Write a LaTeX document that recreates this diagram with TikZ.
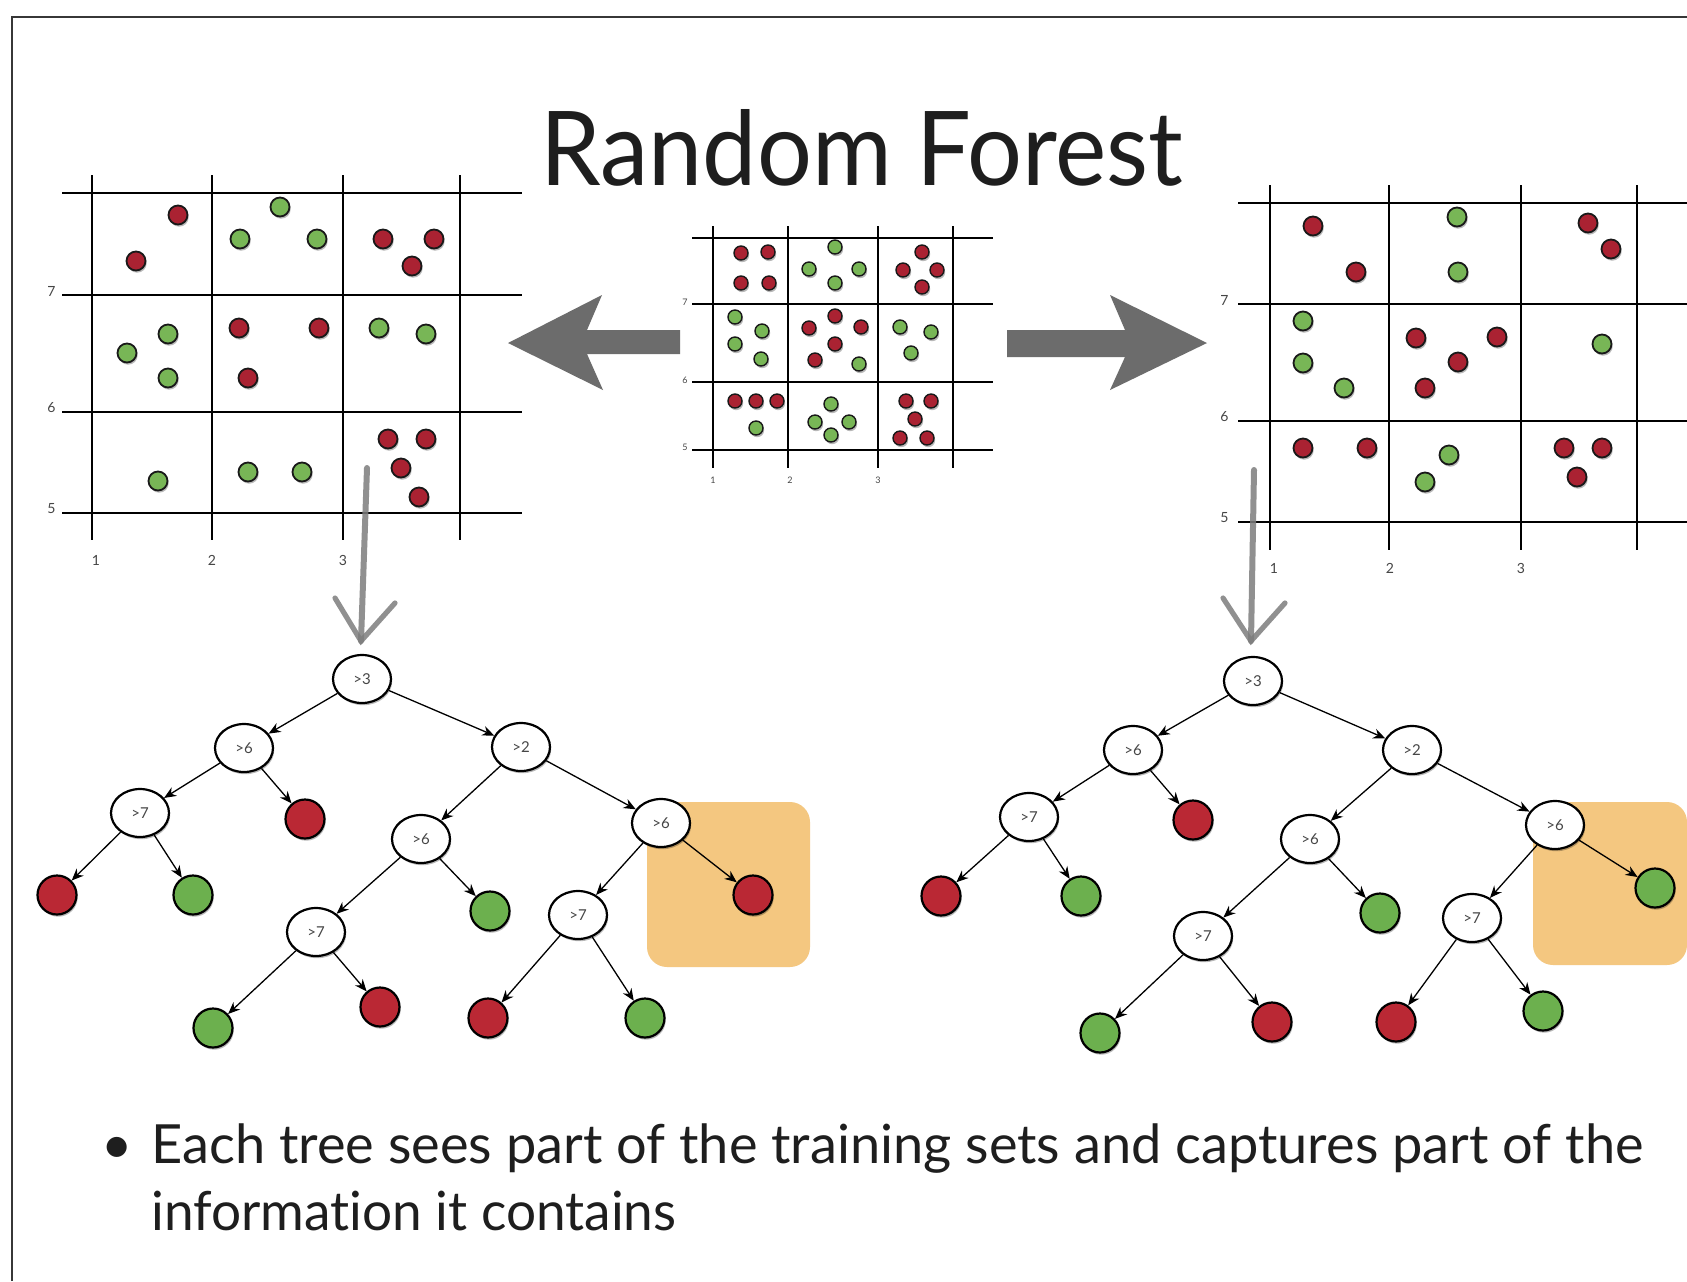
\documentclass[tikz,border=0pt]{standalone}
\usepackage{fontspec}
\setmainfont{Lato}[Ligatures=NoCommon]
\usepackage{graphicx}
\usetikzlibrary{shapes.geometric,arrows.meta,shadows}
\definecolor{dred}{RGB}{170,34,50}
\definecolor{dgreen}{RGB}{120,182,86}
\definecolor{lred}{RGB}{186,40,52}
\definecolor{lgreen}{RGB}{108,176,78}
\definecolor{hl}{RGB}{244,199,128}
\definecolor{bigarrow}{RGB}{108,108,108}
\definecolor{sketch}{RGB}{125,125,125}
\definecolor{framec}{RGB}{55,55,55}
\definecolor{lblc}{RGB}{70,70,70}
\definecolor{txtc}{RGB}{30,30,30}
\begin{document}
\begin{tikzpicture}[x=0.5pt,y=-0.5pt,
  shd/.style={drop shadow={shadow xshift=0.6pt,shadow yshift=-1.1pt,opacity=0.28,fill=black}},
  gridline/.style={line width=1.2pt,black},
  cgridline/.style={line width=1pt,black},
  axlbl/.style={font=\fontsize{7pt}{8pt}\selectfont,text=lblc,inner sep=0pt},
  caxlbl/.style={font=\fontsize{4.5pt}{5pt}\selectfont,text=lblc,inner sep=0pt},
  dotR/.style={circle,draw=black!90,line width=0.9pt,fill=dred,minimum size=9.5pt,inner sep=0pt,shd},
  dotG/.style={circle,draw=black!90,line width=0.9pt,fill=dgreen,minimum size=9.5pt,inner sep=0pt,shd},
  cdotR/.style={circle,draw=black!90,line width=0.7pt,fill=dred,minimum size=7pt,inner sep=0pt,shd},
  cdotG/.style={circle,draw=black!90,line width=0.7pt,fill=dgreen,minimum size=7pt,inner sep=0pt,shd},
  inode/.style={ellipse,draw=black,line width=1.1pt,fill=white,minimum width=29pt,minimum height=24pt,inner sep=0pt,
    font=\fontsize{7.5pt}{8pt}\selectfont,text=lblc,shd},
  leafR/.style={circle,draw=black,line width=1.1pt,fill=lred,minimum size=19.5pt,inner sep=0pt,shd},
  leafG/.style={circle,draw=black,line width=1.1pt,fill=lgreen,minimum size=19.5pt,inner sep=0pt,shd},
  tedge/.style={-{Stealth[length=6pt,width=5pt]},line width=0.65pt,black},
  sketchline/.style={line width=3pt,sketch,opacity=0.85,line cap=round},
  sketcharm/.style={line width=2.6pt,sketch,opacity=0.85,line cap=round}
]
\useasboundingbox (0,0) rectangle (1687,1281);
\fill[white] (0,0) rectangle (1687,1281);

% frame
\draw[framec,line width=1.2pt] (12,1281) -- (12,17) -- (1687,17);

% title
\node[anchor=base,inner sep=0pt,text=txtc] (title) at (862,185)
  {\resizebox{321.5pt}{\height}{\fontsize{51.6pt}{60pt}\selectfont Random Forest}};

% ---------- left grid ----------
\foreach \yy in {193,295,412,513} \draw[gridline] (62,\yy) -- (522,\yy);
\foreach \xx in {92,212,343,460} \draw[gridline] (\xx,175) -- (\xx,540);
\node[axlbl,anchor=east] (ly7) at (56,291) {7};
\node[axlbl,anchor=east] (ly6) at (56,408) {6};
\node[axlbl,anchor=east] (ly5) at (56,509) {5};
\node[axlbl] (lx1) at (96,560) {1};
\node[axlbl] (lx2) at (212,560) {2};
\node[axlbl] (lx3) at (343,560) {3};
\foreach \xx/\yy [count=\i] in {178/215,136/261,383/239,434/239,412/266,239/328,319/328,248/378,388/439,426/439,401/468,419/497}
  \node[dotR] (lr\i) at (\xx,\yy) {};
\foreach \xx/\yy [count=\i] in {280/207,240/239,317/239,168/334,127/353,168/378,379/328,426/334,158/481,248/472,302/472}
  \node[dotG] (lg\i) at (\xx,\yy) {};

% ---------- center grid ----------
\foreach \yy in {238,304,382,450} \draw[cgridline] (692,\yy) -- (993,\yy);
\foreach \xx in {713,788,878,953} \draw[cgridline] (\xx,226) -- (\xx,468);
\node[caxlbl,anchor=east] (cy7) at (688,302) {7};
\node[caxlbl,anchor=east] (cy6) at (688,380) {6};
\node[caxlbl,anchor=east] (cy5) at (688,447) {5};
\node[caxlbl] (cx1) at (713,480) {1};
\node[caxlbl] (cx2) at (790,480) {2};
\node[caxlbl] (cx3) at (878,480) {3};
\foreach \xx/\yy [count=\i] in {741/253,768/252,741/283,769/283,922/252,903/270,937/270,922/287,835/316,809/328,861/327,835/344,815/360,735/401,756/401,777/401,906/401,931/401,915/419,900/438,927/438}
  \node[cdotR] (cr\i) at (\xx,\yy) {};
\foreach \xx/\yy [count=\i] in {835/247,809/269,859/269,835/283,735/317,762/331,735/344,761/359,859/364,900/327,931/332,911/353,756/428,831/404,815/422,849/422,831/435}
  \node[cdotG] (cg\i) at (\xx,\yy) {};

% ---------- right grid ----------
\foreach \yy in {203,304,421,522} \draw[gridline] (1238,\yy) -- (1687,\yy);
\foreach \xx in {1270,1389,1521,1637} \draw[gridline] (\xx,185) -- (\xx,550);
\node[axlbl,anchor=east] (ry7) at (1229,300) {7};
\node[axlbl,anchor=east] (ry6) at (1229,417) {6};
\node[axlbl,anchor=east] (ry5) at (1229,518) {5};
\node[axlbl] (rx1) at (1274,568) {1};
\node[axlbl] (rx2) at (1390,568) {2};
\node[axlbl] (rx3) at (1521,568) {3};
\foreach \xx/\yy [count=\i] in {1313/226,1356/272,1588/223,1611/249,1416/338,1497/337,1458/362,1425/388,1303/448,1367/448,1564/448,1602/448,1577/477}
  \node[dotR] (rr\i) at (\xx,\yy) {};
\foreach \xx/\yy [count=\i] in {1457/217,1458/272,1303/321,1303/363,1344/388,1602/344,1449/455,1425/482}
  \node[dotG] (rg\i) at (\xx,\yy) {};

% ---------- big gray arrows ----------
\fill[bigarrow] (508,343) -- (602,295) -- (587,330) -- (680,330) -- (680,354) -- (587,354) -- (603,390) -- cycle;
\fill[bigarrow] (1207,343) -- (1110,295) -- (1125,330) -- (1007,330) -- (1007,357) -- (1125,357) -- (1110,390) -- cycle;

% ---------- sketchy down arrows ----------
\coordinate (ls) at (367,468);
\coordinate (lt) at (361,641);
\coordinate (la) at (335,598);
\coordinate (lb) at (395,603);
\draw[sketchline] (ls) -- (lt);
\draw[sketcharm] (la) -- (lt) -- (lb);
\coordinate (rs) at (1254,470);
\coordinate (rt) at (1251,641);
\coordinate (ra) at (1223,598);
\coordinate (rb) at (1285,603);
\draw[sketchline] (rs) -- (rt);
\draw[sketcharm] (ra) -- (rt) -- (rb);

% ---------- highlight boxes ----------
\fill[hl,rounded corners=10pt] (647,802) rectangle (810,967);
\fill[hl,rounded corners=10pt] (1533,802) rectangle (1687,965);

% ---------- left tree ----------
\node[inode] (LA3) at (362,679) {>3};
\node[inode] (LA6) at (244,748) {>6};
\node[inode] (LA2) at (521,747) {>2};
\node[inode] (LA7) at (140,813) {>7};
\node[leafR] (LAr1) at (305,819) {};
\node[inode] (LB6) at (421,839) {>6};
\node[inode] (LC6) at (661,823) {>6};
\node[leafR] (LAr2) at (57,895) {};
\node[leafG] (LAg1) at (193,895) {};
\node[leafG] (LBg1) at (490,911) {};
\node[inode] (LB7) at (316,932) {>7};
\node[inode] (LC7) at (578,915) {>7};
\node[leafR] (LCr1) at (753,895) {};
\node[leafG] (LBg2) at (213,1028) {};
\node[leafR] (LBr1) at (380,1007) {};
\node[leafR] (LCr2) at (488,1018) {};
\node[leafG] (LCg1) at (645,1018) {};
\foreach \a/\b in {LA3/LA6,LA3/LA2,LA6/LA7,LA6/LAr1,LA7/LAr2,LA7/LAg1,LA2/LB6,LA2/LC6,LB6/LB7,LB6/LBg1,LB7/LBg2,LB7/LBr1,LC6/LC7,LC6/LCr1,LC7/LCr2,LC7/LCg1}
  \draw[tedge] (\a) -- (\b);

% ---------- right tree ----------
\node[inode] (RA3) at (1253,681) {>3};
\node[inode] (RA6) at (1133,750) {>6};
\node[inode] (RA2) at (1412,750) {>2};
\node[inode] (RA7) at (1029,817) {>7};
\node[leafR] (RAr1) at (1193,820) {};
\node[inode] (RB6) at (1310,839) {>6};
\node[inode] (RC6) at (1555,825) {>6};
\node[leafR] (RAr2) at (941,896) {};
\node[leafG] (RAg1) at (1081,896) {};
\node[leafG] (RBg1) at (1380,913) {};
\node[inode] (RB7) at (1203,936) {>7};
\node[inode] (RC7) at (1472,918) {>7};
\node[leafG] (RCg1) at (1655,888) {};
\node[leafG] (RBg2) at (1100,1033) {};
\node[leafR] (RBr1) at (1272,1022) {};
\node[leafR] (RCr2) at (1396,1022) {};
\node[leafG] (RCg2) at (1543,1011) {};
\foreach \a/\b in {RA3/RA6,RA3/RA2,RA6/RA7,RA6/RAr1,RA7/RAr2,RA7/RAg1,RA2/RB6,RA2/RC6,RB6/RB7,RB6/RBg1,RB7/RBg2,RB7/RBr1,RC6/RC7,RC6/RCg1,RC7/RCr2,RC7/RCg2}
  \draw[tedge] (\a) -- (\b);

% ---------- bullet text ----------
\node[anchor=base,inner sep=0pt,text=txtc] (bul) at (117,1163)
  {\fontsize{27pt}{32pt}\selectfont •};
\node[anchor=base west,inner sep=0pt,text=txtc] (line1) at (151,1163)
  {\resizebox{746pt}{\height}{\fontsize{27pt}{32pt}\selectfont Each tree sees part of the training sets and captures part of the}};
\node[anchor=base west,inner sep=0pt,text=txtc] (line2) at (151,1230)
  {\resizebox{262.5pt}{\height}{\fontsize{27pt}{32pt}\selectfont information it contains}};
\end{tikzpicture}
\end{document}
